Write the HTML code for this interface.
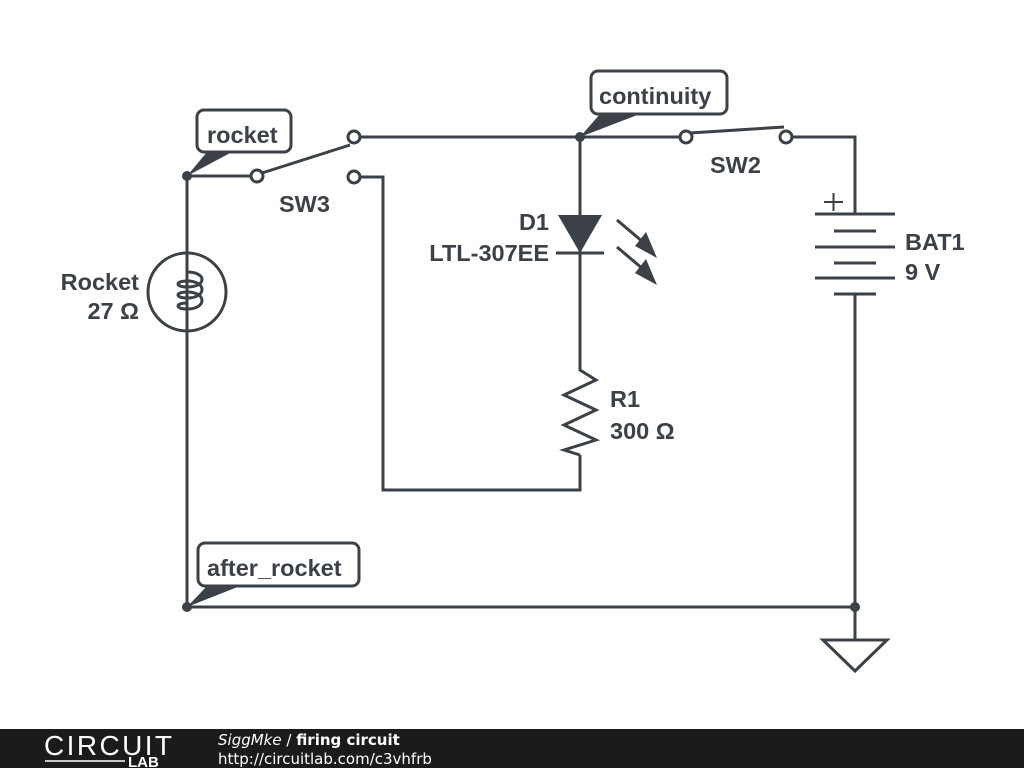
<!DOCTYPE html>
<html><head><style>
body{margin:0;width:1024px;height:768px;background:#fff;overflow:hidden;font-family:"Liberation Sans",sans-serif}
</style></head><body>
<svg width="1024" height="768" viewBox="0 0 1024 768" xmlns="http://www.w3.org/2000/svg">
<g stroke="#3b4147" stroke-width="3" fill="none" stroke-linecap="butt">
<line x1="187" y1="176" x2="187" y2="607"/>
<circle cx="187" cy="292" r="39"/>
<path d="M187,272 c20,0 20,15 0,15 c-12,0 -12,-6 0,-6 c20,0 20,17 0,17 c-12,0 -12,-6 0,-6 c20,0 20,17 0,17 c-12,0 -12,-6 0,-6"/>
<line x1="187" y1="176" x2="251" y2="176"/>
<circle cx="257" cy="176" r="6" fill="#fff"/>
<line x1="262" y1="173" x2="350" y2="145"/>
<circle cx="354" cy="137" r="6" fill="#fff"/>
<circle cx="354" cy="177" r="6" fill="#fff"/>
<line x1="360" y1="137" x2="680" y2="137"/>
<polyline points="360,177 383,177 383,490 580,490 580,455"/>
<line x1="580" y1="137" x2="580" y2="365"/>
<line x1="556" y1="253" x2="604" y2="253"/>
<polyline points="580,365 580,370 596,380 564,395 596,410 564,425 596,440 564,450 580,455"/>
<line x1="617" y1="220" x2="650" y2="248"/>
<line x1="617" y1="247" x2="650" y2="275"/>
<circle cx="686" cy="137" r="6" fill="#fff"/>
<circle cx="786" cy="137" r="6" fill="#fff"/>
<line x1="690" y1="133" x2="784" y2="127"/>
<polyline points="792,137 855,137 855,214"/>
<line x1="815" y1="214" x2="895" y2="214"/>
<line x1="834" y1="231" x2="876" y2="231"/>
<line x1="815" y1="247" x2="895" y2="247"/>
<line x1="834" y1="263" x2="876" y2="263"/>
<line x1="815" y1="278" x2="895" y2="278"/>
<line x1="834" y1="294" x2="876" y2="294"/>
<line x1="855" y1="294" x2="855" y2="640"/>
<line x1="824" y1="202" x2="843" y2="202" stroke-width="2"/>
<line x1="833.5" y1="193" x2="833.5" y2="211" stroke-width="2"/>
<line x1="187" y1="607" x2="855" y2="607"/>
<polygon points="823,640 887,640 855,671"/>
<rect x="197" y="110" width="94" height="42" rx="7"/>
<rect x="591" y="71" width="136" height="43" rx="7"/>
<rect x="198" y="543" width="161" height="43" rx="7"/>
</g>
<g fill="#3b4147">
<circle cx="187" cy="176" r="5"/>
<circle cx="187" cy="607" r="5"/>
<circle cx="580" cy="137" r="5"/>
<circle cx="855" cy="607" r="5"/>
<polygon points="558,215 602,215 580,253"/>
<polygon points="657,258 646,232 635,246"/>
<polygon points="657,285 646,259 635,273"/>
<polygon points="187,176 207,152 232,152"/>
<polygon points="580,137 600,114 640,114"/>
<polygon points="187,607 207,586 240,586"/>
</g>
<g fill="#3b4147" font-weight="bold" font-size="23.5">
<text x="207" y="143">rocket</text>
<text x="599" y="104">continuity</text>
<text x="207" y="576">after_rocket</text>
<text x="279" y="212">SW3</text>
<text x="710" y="173">SW2</text>
<text x="549" y="230" text-anchor="end">D1</text>
<text x="549" y="261" text-anchor="end">LTL-307EE</text>
<text x="610" y="407">R1</text>
<text x="610" y="439">300 Ω</text>
<text x="905" y="250">BAT1</text>
<text x="905" y="280">9 V</text>
<text x="139" y="290" text-anchor="end">Rocket</text>
<text x="139" y="319" text-anchor="end">27 Ω</text>
</g>
<rect x="0" y="729" width="1024" height="39" fill="#1b1b1b"/>
<text x="44" y="755" fill="#fff" font-size="28" textLength="128">CIRCUIT</text>
<text x="128" y="767" fill="#fff" font-size="15" font-weight="bold">LAB</text>
<line x1="45" y1="761" x2="125" y2="761" stroke="#fff" stroke-width="1.5"/>
<text x="218" y="745" fill="#fff" font-size="15" font-family="'DejaVu Sans',sans-serif"><tspan font-style="italic">SiggMke</tspan> / <tspan font-weight="bold">firing circuit</tspan></text>
<text x="218" y="764" fill="#fff" font-size="15" font-family="'DejaVu Sans',sans-serif">http://circuitlab.com/c3vhfrb</text>
</svg>
</body></html>
